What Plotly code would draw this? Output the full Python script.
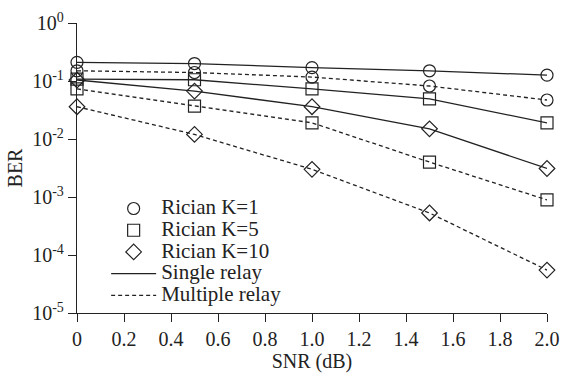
import plotly.graph_objects as go

snr = [0, 0.5, 1.0, 1.5, 2.0]
single_k1 = [0.21, 0.20, 0.17, 0.15, 0.126]
single_k5 = [0.108, 0.105, 0.073, 0.049, 0.019]
single_k10 = [0.104, 0.067, 0.036, 0.015, 0.0031]
multi_k1 = [0.15, 0.14, 0.117, 0.082, 0.047]
multi_k5 = [0.073, 0.037, 0.019, 0.004, 0.00089]
multi_k10 = [0.036, 0.012, 0.003, 0.00053, 0.000055]

x_ticks = [0, 0.2, 0.4, 0.6, 0.8, 1.0, 1.2, 1.4, 1.6, 1.8, 2.0]
x_ticktext = ["0", "0.2", "0.4", "0.6", "0.8", "1.0", "1.2", "1.4", "1.6", "1.8", "2.0"]
y_ticks = [1, 1e-1, 1e-2, 1e-3, 1e-4, 1e-5]
y_ticktext = ["10<sup>0</sup>", "10<sup>-1</sup>", "10<sup>-2</sup>", "10<sup>-3</sup>",
              "10<sup>-4</sup>", "10<sup>-5</sup>"]
legend_names = ["Rician K=1", "Rician K=5", "Rician K=10", "Single relay", "Multiple relay"]

FONT = "Liberation Serif, Times New Roman, serif"
C = "#222222"

fig = go.Figure()

series = [
    (single_k1, "circle-open", "solid"),
    (single_k5, "square-open", "solid"),
    (single_k10, "diamond-open", "solid"),
    (multi_k1, "circle-open", "4px,3px"),
    (multi_k5, "square-open", "4px,3px"),
    (multi_k10, "diamond-open", "4px,3px"),
]
for vals, sym, dash in series:
    fig.add_trace(go.Scatter(
        x=snr, y=vals, mode="lines+markers", showlegend=False, cliponaxis=False,
        line=dict(color=C, width=1.3, dash=dash),
        marker=dict(symbol=sym, size=12, color=C, line=dict(width=1.2, color=C)),
    ))

legend_styles = [
    ("markers", "circle-open", "solid"),
    ("markers", "square-open", "solid"),
    ("markers", "diamond-open", "solid"),
    ("lines", "circle-open", "solid"),
    ("lines", "circle-open", "4px,3px"),
]
for name, (mode, sym, dash) in zip(legend_names, legend_styles):
    fig.add_trace(go.Scatter(
        x=[None], y=[None], mode=mode,
        name="<span style=\"font-size:21px;font-family:'Liberation Serif',serif\">" + name + "</span>",
        line=dict(color=C, width=1.3, dash=dash),
        marker=dict(symbol=sym, size=12, color=C, line=dict(width=1.2, color=C)),
    ))

fig.update_layout(
    width=563, height=379,
    margin=dict(l=77, r=16, t=23, b=66),
    plot_bgcolor="white", paper_bgcolor="white",
    font=dict(family=FONT, size=20, color=C),
    legend=dict(x=0.062, y=0.415, xanchor="left", yanchor="top",
                bgcolor="rgba(0,0,0,0)", font=dict(family=FONT, size=14.4, color=C),
                tracegroupgap=0, itemwidth=45),
    xaxis=dict(range=[0, 2.0], tickvals=x_ticks, ticktext=x_ticktext, automargin=False,
               showgrid=False, zeroline=False, showline=True, linecolor=C, linewidth=1.3,
               ticks="outside", ticklen=8, tickcolor=C, tickwidth=1.3,
               title=dict(text="SNR (dB)", font=dict(family=FONT, size=20, color=C), standoff=4)),
    yaxis=dict(type="log", range=[-5, 0], tickvals=y_ticks, ticktext=y_ticktext, automargin=False,
               showgrid=False, zeroline=False, showline=True, linecolor=C, linewidth=1.3,
               ticks="outside", ticklen=8, tickcolor=C, tickwidth=1.3,
               title=dict(text="BER", font=dict(family=FONT, size=20, color=C), standoff=4)),
)

fig.write_html("out.html", config={"displayModeBar": False},
               post_script="document.body.style.margin='0';document.body.style.overflow='hidden';")
